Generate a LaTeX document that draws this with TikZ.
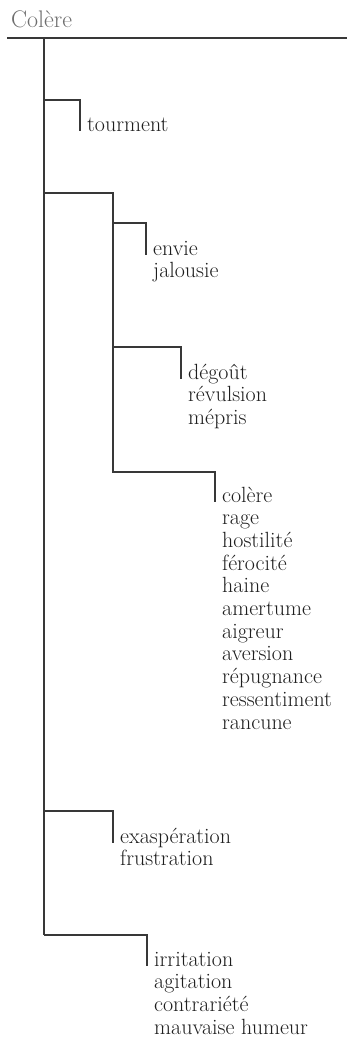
\documentclass[tikz,border=0pt]{standalone}
\usepackage{fontspec}
\usepackage{tikz}
\definecolor{trait}{HTML}{383838}
\definecolor{encre}{HTML}{1E1E1E}
\definecolor{titregris}{HTML}{6E6E6E}
\newcommand{\mots}[1]{\begin{tabular}[t]{@{}l@{}}#1\end{tabular}}

\begin{document}
\begin{tikzpicture}[x=1pt, y=-1pt,
    ligne/.style={line width=1.1pt, trait},
    mot/.style={anchor=base west, inner xsep=7pt, inner ysep=0pt, text=encre,
      font=\fontsize{22}{22.7}\selectfont}]
  % Set the frame
  \useasboundingbox (0,0) rectangle (347,1039);

  % Title and top rule
  \node[anchor=base west, inner sep=0pt, text=titregris, font=\fontsize{24}{26}\selectfont] (titre) at (11,27) {Colère};
  \coordinate (haut-g) at (7,38);
  \coordinate (haut-d) at (347,38);
  \draw[ligne] (haut-g) -- (haut-d);

  % Branch points on the trunk
  \coordinate (racine) at (44,38);
  \coordinate (r1) at (44,100);
  \coordinate (r2) at (44,193);
  \coordinate (r3) at (44,811);
  \coordinate (r4) at (44,935);

  % Branch points on the inner trunk
  \coordinate (s1) at (113,223);
  \coordinate (s2) at (113,347);
  \coordinate (s3) at (113,472);

  % The word lists
  \node[mot] (tourment) at (80,131) {\mots{tourment}};
  \node[mot] (envie) at (146,255) {\mots{envie\\ jalousie}};
  \node[mot] (degout) at (181,379) {\mots{dégoût\\ révulsion\\ mépris}};
  \node[mot] (colere) at (215,502) {\mots{colère\\ rage\\ hostilité\\ férocité\\ haine\\ amertume\\ aigreur\\ aversion\\ répugnance\\ ressentiment\\ rancune}};
  \node[mot] (exasp) at (113,843) {\mots{exaspération\\ frustration}};
  \node[mot] (irrit) at (147,966) {\mots{irritation\\ agitation\\ contrariété\\ mauvaise humeur}};

  % Draw the trunk
  \draw[ligne] (racine) -- (r4);

  % Draw the branches
  \draw[ligne] (r1) -| (tourment.base west);
  \draw[ligne] (r2) -| (s3) -| (colere.base west);
  \draw[ligne] (s1) -| (envie.base west);
  \draw[ligne] (s2) -| (degout.base west);
  \draw[ligne] (r3) -| (exasp.base west);
  \draw[ligne] (r4) -| (irrit.base west);

\end{tikzpicture}
\end{document}
